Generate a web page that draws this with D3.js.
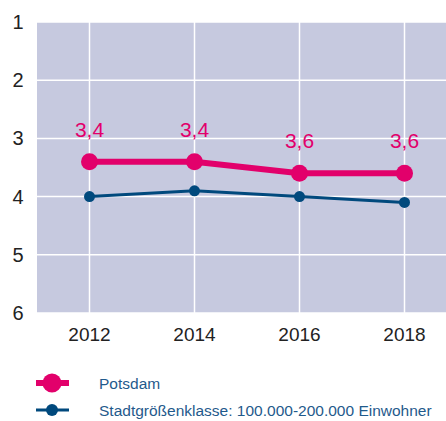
<!DOCTYPE html>
<html>
<head>
<meta charset="utf-8">
<script src="https://cdn.jsdelivr.net/npm/d3@7"></script>
<style>
  body { margin: 0; background: #fff; }
  svg { font-family: "Liberation Sans", Arial, sans-serif; }
</style>
</head>
<body>
<div id="container"></div>
<script>
/* CONSTANTS AND GLOBALS */
const width = 446;
const height = 421;
const margin = { top: 22, right: 0, bottom: 108, left: 37 };
const xRangeRight = 457; // the last band runs past the window edge

/* DATA */
const years = [2012, 2014, 2016, 2018];
const potsdam = [3.4, 3.4, 3.6, 3.6];
const klasse = [4.0, 3.9, 4.0, 4.1];
const yTicks = [1, 2, 3, 4, 5, 6];
const seriesNames = ["Potsdam", "Stadtgrößenklasse: 100.000-200.000 Einwohner"];

const pink = "#e2006b";
const navy = "#00497d";

/* SCALES */
const xScale = d3.scalePoint()
  .domain(years)
  .range([margin.left, xRangeRight])
  .padding(0.5);

const yScale = d3.scaleLinear()
  .domain([1, 6])
  .range([margin.top, height - margin.bottom]);

/* SVG */
const svg = d3.select("#container")
  .append("svg")
  .attr("width", width)
  .attr("height", height);

svg.append("rect")
  .attr("x", margin.left)
  .attr("y", margin.top)
  .attr("width", width - margin.left - margin.right)
  .attr("height", height - margin.top - margin.bottom)
  .attr("fill", "#c6c9df");

// grid
svg.selectAll("line.hgrid")
  .data(yTicks)
  .join("line")
  .attr("class", "hgrid")
  .attr("x1", margin.left)
  .attr("x2", width - margin.right)
  .attr("y1", d => yScale(d))
  .attr("y2", d => yScale(d))
  .attr("stroke", "#fff")
  .attr("stroke-width", 1.5);

svg.selectAll("line.vgrid")
  .data(years)
  .join("line")
  .attr("class", "vgrid")
  .attr("x1", d => xScale(d))
  .attr("x2", d => xScale(d))
  .attr("y1", margin.top)
  .attr("y2", height - margin.bottom)
  .attr("stroke", "#fff")
  .attr("stroke-width", 1.5);

// axis labels
svg.selectAll("text.ytick")
  .data(yTicks)
  .join("text")
  .attr("class", "ytick")
  .attr("x", 18)
  .attr("y", d => yScale(d) + 7)
  .attr("text-anchor", "middle")
  .attr("font-size", 20)
  .attr("fill", "#222")
  .text(d => d);

svg.selectAll("text.xtick")
  .data(years)
  .join("text")
  .attr("class", "xtick")
  .attr("x", d => xScale(d))
  .attr("y", 341)
  .attr("text-anchor", "middle")
  .attr("font-size", 19)
  .attr("fill", "#222")
  .text(d => d);

// lines
const line = d3.line()
  .x((d, i) => xScale(years[i]))
  .y(d => yScale(d));

svg.append("path")
  .datum(klasse)
  .attr("d", line)
  .attr("fill", "none")
  .attr("stroke", navy)
  .attr("stroke-width", 3);

svg.selectAll("circle.klasse")
  .data(klasse)
  .join("circle")
  .attr("class", "klasse")
  .attr("cx", (d, i) => xScale(years[i]))
  .attr("cy", d => yScale(d))
  .attr("r", 5.5)
  .attr("fill", navy);

svg.append("path")
  .datum(potsdam)
  .attr("d", line)
  .attr("fill", "none")
  .attr("stroke", pink)
  .attr("stroke-width", 6);

svg.selectAll("circle.potsdam")
  .data(potsdam)
  .join("circle")
  .attr("class", "potsdam")
  .attr("cx", (d, i) => xScale(years[i]))
  .attr("cy", d => yScale(d))
  .attr("r", 8.5)
  .attr("fill", pink);

svg.selectAll("text.vlabel")
  .data(potsdam)
  .join("text")
  .attr("class", "vlabel")
  .attr("x", (d, i) => xScale(years[i]))
  .attr("y", d => yScale(d) - 25)
  .attr("text-anchor", "middle")
  .attr("font-size", 21)
  .attr("fill", pink)
  .text(d => d3.format(".1f")(d).replace(".", ","));

// legend
const legend = svg.selectAll("g.legend")
  .data(seriesNames)
  .join("g")
  .attr("class", "legend")
  .attr("transform", (d, i) => `translate(0, ${383 + i * 27})`);

legend.append("line")
  .attr("x1", 36)
  .attr("x2", 69)
  .attr("stroke", (d, i) => i === 0 ? pink : navy)
  .attr("stroke-width", (d, i) => i === 0 ? 6 : 3);

legend.append("circle")
  .attr("cx", 52)
  .attr("r", (d, i) => i === 0 ? 9.5 : 6)
  .attr("fill", (d, i) => i === 0 ? pink : navy);

legend.append("text")
  .attr("x", 99)
  .attr("y", 5.5)
  .attr("font-size", 15.5)
  .attr("fill", "#1f5a8c")
  .text(d => d);
</script>
</body>
</html>
